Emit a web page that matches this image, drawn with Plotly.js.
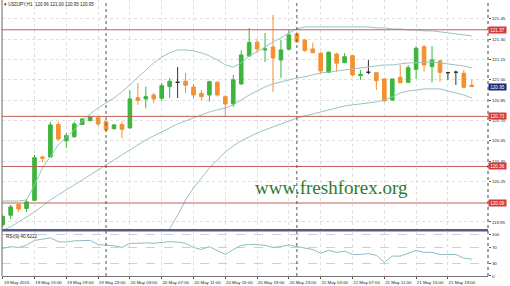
<!DOCTYPE html>
<html><head><meta charset="utf-8">
<script src="https://cdn.plot.ly/plotly-3.0.1.min.js"></script>
<style>html,body{margin:0;padding:0;background:#fff}#chart{width:510px;height:286px}</style>
</head><body><div id="chart"></div>
<script>
const times = ["2015-05-19 11:00","2015-05-19 12:00","2015-05-19 13:00","2015-05-19 14:00","2015-05-19 15:00","2015-05-19 16:00","2015-05-19 17:00","2015-05-19 18:00","2015-05-19 19:00","2015-05-19 20:00","2015-05-19 21:00","2015-05-19 22:00","2015-05-19 23:00","2015-05-20 00:00","2015-05-20 01:00","2015-05-20 02:00","2015-05-20 03:00","2015-05-20 04:00","2015-05-20 05:00","2015-05-20 06:00","2015-05-20 07:00","2015-05-20 08:00","2015-05-20 09:00","2015-05-20 10:00","2015-05-20 11:00","2015-05-20 12:00","2015-05-20 13:00","2015-05-20 14:00","2015-05-20 15:00","2015-05-20 16:00","2015-05-20 17:00","2015-05-20 18:00","2015-05-20 19:00","2015-05-20 20:00","2015-05-20 21:00","2015-05-20 22:00","2015-05-20 23:00","2015-05-21 00:00","2015-05-21 01:00","2015-05-21 02:00","2015-05-21 03:00","2015-05-21 04:00","2015-05-21 05:00","2015-05-21 06:00","2015-05-21 07:00","2015-05-21 08:00","2015-05-21 09:00","2015-05-21 10:00","2015-05-21 11:00","2015-05-21 12:00","2015-05-21 13:00","2015-05-21 14:00","2015-05-21 15:00","2015-05-21 16:00","2015-05-21 17:00","2015-05-21 18:00","2015-05-21 19:00","2015-05-21 20:00","2015-05-21 21:00","2015-05-21 22:00"];
const opens  = [119.93,120.00,120.08,120.05,120.11,120.43,120.43,120.67,120.55,120.58,120.67,120.70,120.72,120.69,120.64,120.67,120.645,120.868,120.859,120.888,120.864,120.95,120.982,120.99,120.947,120.90,120.888,120.982,120.876,120.822,120.97,121.177,121.278,121.221,121.243,121.147,121.226,121.339,121.295,121.228,121.197,121.056,121.191,121.127,121.179,121.031,121.056,121.053,121.007,120.851,121.019,120.982,121.078,121.245,121.098,121.14,121.053,121.056,121.049,120.96];
const highs  = [120.00,120.076,120.083,120.12,120.445,120.44,120.69,120.69,120.608,120.69,120.718,120.733,120.726,120.70,120.674,120.69,120.925,120.977,120.95,120.905,120.977,121.014,121.095,121.05,120.97,120.925,120.994,120.987,120.888,121.036,121.22,121.383,121.30,121.347,121.48,121.295,121.369,121.356,121.30,121.275,121.208,121.21,121.20,121.197,121.184,121.073,121.147,121.053,121.014,121.007,121.11,121.11,121.25,121.258,121.25,121.147,121.06,121.068,121.073,121.00];
const lows   = [119.91,119.972,120.024,120.024,120.105,120.39,120.43,120.55,120.497,120.57,120.667,120.69,120.659,120.617,120.63,120.568,120.64,120.815,120.79,120.83,120.844,120.866,120.866,120.903,120.86,120.85,120.84,120.876,120.728,120.80,120.962,121.17,121.20,121.132,120.91,121.014,121.22,121.27,121.208,121.197,121.05,121.053,121.06,121.123,121.024,120.999,121.041,120.925,120.84,120.845,120.975,120.975,121.007,121.06,120.98,120.987,121.00,120.962,120.938,120.95];
const closes = [119.99,120.061,120.046,120.098,120.425,120.421,120.667,120.563,120.588,120.674,120.711,120.726,120.674,120.63,120.667,120.635,120.859,120.849,120.876,120.859,120.957,120.99,120.982,120.96,120.888,120.876,120.987,120.888,120.822,121.00,121.184,121.275,121.228,121.228,121.162,121.221,121.332,121.282,121.216,121.201,121.066,121.204,121.123,121.171,121.036,121.041,121.056,120.994,120.844,121.007,120.979,121.09,121.233,121.11,121.147,121.056,121.053,121.056,120.945,120.95];
const bbUpper = [120.105,120.105,120.105,120.113,120.224,120.349,120.43,120.519,120.578,120.63,120.696,120.748,120.792,120.829,120.866,120.911,120.963,121.022,121.073,121.125,121.169,121.199,121.221,121.221,121.214,121.199,121.177,121.147,121.110,121.095,121.125,121.177,121.206,121.243,121.280,121.310,121.347,121.376,121.391,121.391,121.391,121.391,121.391,121.391,121.391,121.391,121.391,121.384,121.384,121.376,121.376,121.369,121.369,121.362,121.362,121.355,121.347,121.340,121.332,121.324];
const bbMiddle = [119.891,119.913,119.950,119.987,120.024,120.068,120.113,120.150,120.186,120.224,120.260,120.297,120.334,120.371,120.408,120.445,120.482,120.519,120.556,120.586,120.615,120.645,120.674,120.696,120.718,120.741,120.763,120.778,120.792,120.815,120.852,120.888,120.918,120.948,120.970,120.985,121.000,121.014,121.022,121.036,121.051,121.058,121.066,121.073,121.081,121.088,121.095,121.103,121.110,121.110,121.118,121.125,121.125,121.132,121.132,121.125,121.118,121.110,121.103,121.088];
const bbLower = [null,null,null,null,null,null,null,null,null,null,null,null,null,null,null,null,null,null,null,119.70,119.80,119.891,120.000,120.113,120.201,120.275,120.349,120.408,120.467,120.512,120.549,120.578,120.608,120.630,120.652,120.674,120.696,120.718,120.733,120.748,120.763,120.778,120.792,120.807,120.815,120.822,120.829,120.837,120.852,120.874,120.903,120.918,120.925,120.933,120.933,120.933,120.918,120.903,120.888,120.866];
const rsi = [66.7,71,69,74,86,89,92,83,82,85,86,86,76,74,73,69,79,79,80,79,81,83,82,79,69,64,71,62,52,64,74,76,76,74,69,71,75,71,67,64,55,62,57,60,52,52,54,50,33,48,48,55,62,57,57,52,52,52,43,40.6];
const tickTimes = ["2015-05-19 11:00","2015-05-19 15:00","2015-05-19 19:00","2015-05-19 23:00","2015-05-20 03:00","2015-05-20 07:00","2015-05-20 11:00","2015-05-20 15:00","2015-05-20 19:00","2015-05-20 23:00","2015-05-21 03:00","2015-05-21 07:00","2015-05-21 11:00","2015-05-21 15:00","2015-05-21 19:00"];
const tickLabels = ["19 May 2015","19 May 15:00","19 May 19:00","19 May 23:00","20 May 03:00","20 May 07:00","20 May 11:00","20 May 15:00","20 May 19:00","20 May 23:00","21 May 03:00","21 May 07:00","21 May 11:00","21 May 15:00","21 May 19:00"];
const priceTicks = [121.45,121.30,121.15,121.00,120.85,120.70,120.55,120.40,120.25,119.95];
const rsiTicks = [0,30,70,100];
const levelLines = [121.37,120.73,120.36,120.09];
const currentPrice = 120.95;
const daySeparators = ["2015-05-20 00:00","2015-05-21 00:00"];
const infoText = "USDJPY,H1  120.96 121.00 120.95 120.95";
const rsiText = "RSI(9) 40.6222";

const GREEN = '#3db53d', ORANGE = '#f39030', DOJI = '#333333', BAND = '#98c4c0';
const idxBody = [], idxDoji = [];
opens.forEach((o, i) => (o === closes[i] ? idxDoji : idxBody).push(i));
const pick = (arr, idx) => idx.map(i => arr[i]);

const traces = [
  {type:'scatter', mode:'lines', x:times, y:bbUpper, line:{color:BAND, width:1}, hoverinfo:'skip', xaxis:'x', yaxis:'y'},
  {type:'scatter', mode:'lines', x:times, y:bbMiddle, line:{color:BAND, width:1}, hoverinfo:'skip', xaxis:'x', yaxis:'y'},
  {type:'scatter', mode:'lines', x:times, y:bbLower, line:{color:BAND, width:1}, hoverinfo:'skip', connectgaps:false, xaxis:'x', yaxis:'y'},
  {type:'candlestick', x:pick(times,idxBody), open:pick(opens,idxBody), high:pick(highs,idxBody), low:pick(lows,idxBody), close:pick(closes,idxBody),
   increasing:{line:{color:GREEN,width:1}, fillcolor:GREEN}, decreasing:{line:{color:ORANGE,width:1}, fillcolor:ORANGE}, whiskerwidth:0, xaxis:'x', yaxis:'y'},
  {type:'candlestick', x:pick(times,idxDoji), open:pick(opens,idxDoji), high:pick(highs,idxDoji), low:pick(lows,idxDoji), close:pick(closes,idxDoji),
   increasing:{line:{color:DOJI,width:1}, fillcolor:DOJI}, decreasing:{line:{color:DOJI,width:1}, fillcolor:DOJI}, whiskerwidth:0, xaxis:'x', yaxis:'y'},
  {type:'scatter', mode:'lines', x:times, y:rsi, line:{color:'#8fbcc4', width:1}, hoverinfo:'skip', xaxis:'x', yaxis:'y2'}
];

const shapes = [];
levelLines.forEach(v => shapes.push({type:'line', xref:'paper', x0:0, x1:1, yref:'y', y0:v, y1:v, line:{color:'#c0605a', width:1}}));
daySeparators.forEach(t => shapes.push({type:'line', xref:'x', x0:t, x1:t, yref:'paper', y0:0, y1:1, line:{color:'#555', width:1, dash:'dot'}}));
shapes.push({type:'line', xref:'paper', x0:0, x1:1, yref:'paper', y0:0.1655, y1:0.1655, line:{color:'#5a5a88', width:2.5}});
shapes.push({type:'line', xref:'paper', x0:0, x1:0, yref:'paper', y0:0, y1:1, line:{color:'#666', width:1}});
shapes.push({type:'line', xref:'paper', x0:1, x1:1, yref:'paper', y0:0, y1:1, line:{color:'#444', width:1, dash:'dot'}});

const boxFont = {family:'Liberation Sans, Arial, sans-serif', size:4.6, color:'#fff'};
const annotations = levelLines.map(v => ({xref:'paper', x:1, xanchor:'left', xshift:0, yref:'y', y:v, text:v.toFixed(2), showarrow:false,
  bgcolor:'#d43a3a', font:boxFont, width:17, height:6, borderpad:0}));
annotations.push({xref:'paper', x:1, xanchor:'left', yref:'y', y:currentPrice, text:currentPrice.toFixed(2), showarrow:false,
  bgcolor:'#1e2a78', font:boxFont, width:17, height:6, borderpad:0});
annotations.push({xref:'paper', x:0.0, xanchor:'left', yref:'paper', y:1, yanchor:'top', yshift:0, text:'▾ ' + infoText, showarrow:false,
  font:{family:'Liberation Sans, Arial, sans-serif', size:4.5, color:'#222'}});
annotations.push({xref:'paper', x:0.004, xanchor:'left', yref:'paper', y:0.1585, yanchor:'top', text:rsiText, showarrow:false,
  font:{family:'Liberation Sans, Arial, sans-serif', size:4.6, color:'#222'}});
annotations.push({xref:'paper', x:0.677, xanchor:'center', yref:'paper', y:0.322, yanchor:'middle', text:'www.freshforex.org', showarrow:false,
  font:{family:'Liberation Serif, Times New Roman, serif', size:19, color:'#2d7a2d'}});

const tickFont = {family:'Liberation Sans, Arial, sans-serif', size:4.4, color:'#222'};
const layout = {
  width:510, height:286, margin:{l:2, r:22, t:0, b:10}, paper_bgcolor:'#fff', plot_bgcolor:'#fff',
  showlegend:false, boxgap:0.35,
  xaxis:{type:'date', anchor:'y2', range:['2015-05-19 10:54:43','2015-05-22 00:02:30'], rangeslider:{visible:false},
    tickmode:'array', tickvals:tickTimes, ticktext:tickLabels, tickfont:tickFont, tickangle:0, ticklabelshift:14, ticks:'outside', ticklen:2, tickcolor:'#555',
    showgrid:true, gridcolor:'#dedede', griddash:'dot', gridwidth:1, zeroline:false, showline:true, linecolor:'#777', linewidth:1, fixedrange:true},
  yaxis:{domain:[0.1703,1], range:[119.898,121.590], side:'right', tickmode:'array', tickvals:priceTicks, ticktext:priceTicks.map(v => v.toFixed(2)), tickfont:tickFont,
    ticks:'outside', ticklen:2, tickcolor:'#555', showgrid:true, gridcolor:'#dedede', griddash:'dot', zeroline:false, showline:false},
  yaxis2:{domain:[0,0.159], range:[0,106], side:'right', tickmode:'array', tickvals:rsiTicks, ticktext:rsiTicks.map(String), tickfont:tickFont, ticks:'outside', ticklen:2, tickcolor:'#555',
    showgrid:true, gridcolor:'#cfcfcf', griddash:'dash', zeroline:false, showline:false},
  shapes:shapes, annotations:annotations
};
Plotly.newPlot('chart', traces, layout, {displayModeBar:false, staticPlot:true});
</script></body></html>
